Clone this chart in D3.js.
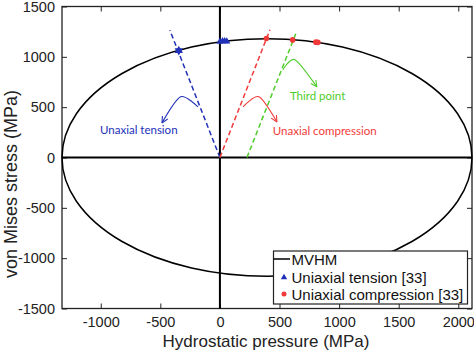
<!DOCTYPE html>
<html>
<head>
<meta charset="utf-8">
<script src="https://cdn.jsdelivr.net/npm/d3@7"></script>
<style>
  body { margin: 0; background: #fff; }
  svg text { font-family: "Liberation Sans", Arial, sans-serif; }
  .note { font-family: Lato, "Open Sans", sans-serif; }
</style>
</head>
<body>
<div id="chart"></div>
<script>
// Axis Ticks
const xTicks = [-1000, -500, 0, 500, 1000, 1500, 2000];
const yTicks = [-1500, -1000, -500, 0, 500, 1000, 1500];

// MVHM Ellipse (centre, semi axes in MPa)
const mvhmCentre = [395, 0];
const mvhmAxes = [1720, 1180];

// Experimental Points [33]
const tensionPts = [[0, 1150], [22, 1155], [40, 1155], [58, 1153]];
const tensionStar = [-345, 1062];
const compressionPts = [[390, 1182], [610, 1168], [805, 1146], [822, 1144]];

// Dashed Loading Paths
const tensionPath = [[0, 0], [-420, 1265]];
const compressionPath = [[0, 0], [420, 1270]];
const thirdPath = [[227, 0], [645, 1255]];

// Annotation Arrows (start, peak, end)
const tensionArrow = [[-184, 503], [-330, 603], [-486, 344]];
const compressionArrow = [[193, 503], [327, 603], [478, 354]];
const thirdArrow = [[528, 872], [629, 972], [813, 703]];

// Colours
const blue = "#2131b8", red = "#f03a3a", green = "#4fcc2a";

// Dimensions
let w = 474, h = 352;
let pLeft = 62, pRight = 472, pTop = 6.5, pBottom = 308.5;

let svg = d3.select("#chart").append("svg").attr("width", w).attr("height", h);

// Scales
let xScale = d3.scaleLinear().domain([-1325, 2115]).range([pLeft, pRight]);
let yScale = d3.scaleLinear().domain([-1500, 1500]).range([pBottom, pTop]);

// Arrow Head Markers
function addMarker(id, color) {
  svg.append("defs").append("marker").attr("id", id)
    .attr("viewBox", "0 0 10 10").attr("refX", 9).attr("refY", 5)
    .attr("markerWidth", 7).attr("markerHeight", 7).attr("orient", "auto")
    .append("path").attr("d", "M1,1 L9,5 L1,9").attr("fill", "none").attr("stroke", color).attr("stroke-width", 1.4);
}
addMarker("arBlue", blue); addMarker("arRed", red); addMarker("arGreen", green);

// Axes (ticks inside, no domain)
let fmt = d => String(d);
let xAxisB = d3.axisBottom(xScale).tickValues(xTicks).tickFormat(fmt).tickSizeInner(-5).tickSizeOuter(0).tickPadding(8);
let xAxisT = d3.axisTop(xScale).tickValues(xTicks).tickSizeInner(-5).tickSizeOuter(0).tickFormat("");
let yAxisL = d3.axisLeft(yScale).tickValues(yTicks).tickFormat(fmt).tickSizeInner(-5).tickSizeOuter(0).tickPadding(7);
let yAxisR = d3.axisRight(yScale).tickValues(yTicks).tickSizeInner(-5).tickSizeOuter(0).tickFormat("");

function styleAxis(g) {
  g.select(".domain").remove();
  g.selectAll("line").attr("stroke", "#222").attr("stroke-width", 1);
  g.selectAll("text").attr("fill", "#222").style("font-size", "14.5px").style("font-family", "'Liberation Sans', Arial, sans-serif");
}
svg.append("g").attr("transform", "translate(0," + pBottom + ")").call(xAxisB).call(styleAxis);
svg.append("g").attr("transform", "translate(0," + pTop + ")").call(xAxisT).call(styleAxis);
svg.append("g").attr("transform", "translate(" + pLeft + ",0)").call(yAxisL).call(styleAxis);
svg.append("g").attr("transform", "translate(" + pRight + ",0)").call(yAxisR).call(styleAxis);

// Box
svg.append("rect").attr("x", pLeft).attr("y", pTop).attr("width", pRight - pLeft).attr("height", pBottom - pTop)
  .attr("fill", "none").attr("stroke", "#222").attr("stroke-width", 1.3);

// Zero Lines
svg.append("line").attr("x1", xScale(0)).attr("x2", xScale(0)).attr("y1", pTop).attr("y2", pBottom)
  .attr("stroke", "#000").attr("stroke-width", 2);
svg.append("line").attr("x1", pLeft).attr("x2", pRight).attr("y1", yScale(0)).attr("y2", yScale(0))
  .attr("stroke", "#000").attr("stroke-width", 2);

// MVHM Ellipse
svg.append("ellipse")
  .attr("cx", xScale(mvhmCentre[0])).attr("cy", yScale(mvhmCentre[1]))
  .attr("rx", xScale(mvhmCentre[0] + mvhmAxes[0]) - xScale(mvhmCentre[0]))
  .attr("ry", yScale(0) - yScale(mvhmAxes[1]))
  .attr("fill", "none").attr("stroke", "#000").attr("stroke-width", 1.5);

// Dashed Loading Paths
let line = d3.line().x(d => xScale(d[0])).y(d => yScale(d[1]));
[[tensionPath, blue], [compressionPath, red], [thirdPath, green]].forEach(([p, c]) => {
  svg.append("path").attr("d", line(p)).attr("fill", "none").attr("stroke", c)
    .attr("stroke-width", 1.5).attr("stroke-dasharray", "5,3");
});

// Annotation Arrows
let curve = d3.line().x(d => xScale(d[0])).y(d => yScale(d[1])).curve(d3.curveCardinal.tension(0.2));
[[tensionArrow, blue, "arBlue"], [compressionArrow, red, "arRed"], [thirdArrow, green, "arGreen"]].forEach(([p, c, m]) => {
  svg.append("path").attr("d", curve(p)).attr("fill", "none").attr("stroke", c)
    .attr("stroke-width", 1.1).attr("marker-end", "url(#" + m + ")");
});

// Annotation Texts
svg.append("text").attr("class", "note").attr("x", xScale(-1006)).attr("y", yScale(234))
  .attr("fill", blue).style("font-size", "11.5px").text("Unaxial tension");
svg.append("text").attr("class", "note").attr("x", xScale(444)).attr("y", yScale(224))
  .attr("fill", red).style("font-size", "11.5px").text("Unaxial compression");
svg.append("text").attr("class", "note").attr("x", xScale(587)).attr("y", yScale(573))
  .attr("fill", green).style("font-size", "11.5px").text("Third point");

// Experimental Markers
let tri = d3.symbol().type(d3.symbolTriangle).size(22);
svg.selectAll(".tp").data(tensionPts).enter().append("path")
  .attr("transform", d => "translate(" + xScale(d[0]) + "," + yScale(d[1]) + ")")
  .attr("d", tri).attr("fill", blue);
let star = d3.symbol().type(d3.symbolTriangle).size(30);
svg.append("path").attr("transform", "translate(" + xScale(tensionStar[0]) + "," + yScale(tensionStar[1]) + ")")
  .attr("d", star).attr("fill", blue);
svg.append("path").attr("transform", "translate(" + xScale(tensionStar[0]) + "," + yScale(tensionStar[1]) + ") rotate(180)")
  .attr("d", star).attr("fill", blue);
svg.selectAll(".cp").data(compressionPts).enter().append("circle")
  .attr("cx", d => xScale(d[0])).attr("cy", d => yScale(d[1])).attr("r", 2.8).attr("fill", red);

// Legend
let lg = svg.append("g");
lg.append("rect").attr("x", 273.5).attr("y", 251).attr("width", 194).attr("height", 53)
  .attr("fill", "#fff").attr("stroke", "#222").attr("stroke-width", 1.2);
lg.append("line").attr("x1", 273.5).attr("x2", 290).attr("y1", 259).attr("y2", 259).attr("stroke", "#000").attr("stroke-width", 1.5);
lg.append("text").attr("x", 291.5).attr("y", 265).style("font-size", "15px").attr("fill", "#111").text("MVHM");
lg.append("path").attr("transform", "translate(284,277.5)").attr("d", d3.symbol().type(d3.symbolTriangle).size(18)).attr("fill", blue);
lg.append("text").attr("x", 291.5).attr("y", 283).style("font-size", "15px").attr("fill", "#111").text("Uniaxial tension [33]");
lg.append("circle").attr("cx", 284).attr("cy", 294).attr("r", 2.5).attr("fill", red);
lg.append("text").attr("x", 291.5).attr("y", 300).style("font-size", "15px").attr("fill", "#111").text("Uniaxial compression [33]");

// Axis Labels
svg.append("text").attr("x", 266).attr("y", 347).attr("text-anchor", "middle")
  .style("font-size", "17px").attr("fill", "#222").text("Hydrostatic pressure (MPa)");
svg.append("text").attr("transform", "translate(17,184) rotate(-90)").attr("text-anchor", "middle")
  .style("font-size", "18px").attr("fill", "#222").text("von Mises stress (MPa)");
</script>
</body>
</html>
